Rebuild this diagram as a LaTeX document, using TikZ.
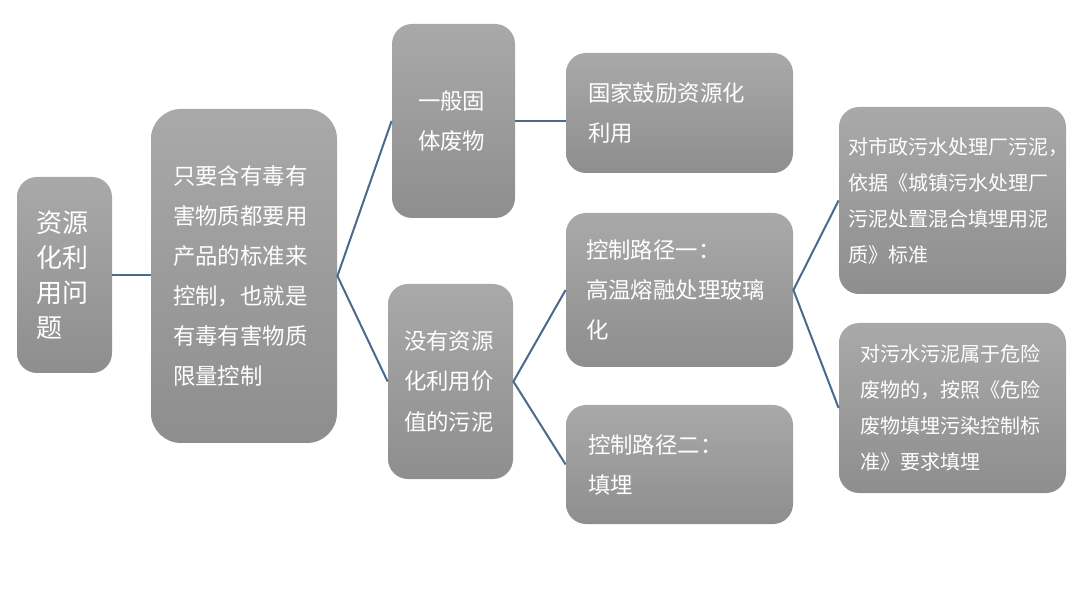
\documentclass[tikz,border=0pt]{standalone}
\usepackage{fontspec}
\usepackage{tikz}
\usetikzlibrary{positioning}
\newfontfamily\cjk{Noto Sans CJK SC}
\definecolor{boxtop}{HTML}{A9A9A9}
\definecolor{boxbot}{HTML}{8E8E8E}
\definecolor{linkcol}{HTML}{4B6A8B}

\begin{document}
\begin{tikzpicture}[x=0.5pt,y=-0.5pt,
    box/.style={rounded corners=10pt,top color=boxtop,bottom color=boxbot,
      draw=none,text=white,align=left,inner ysep=0pt,
      font=\cjk\fontsize{11.2}{20}\selectfont},
    link/.style={draw=linkcol,line width=1pt}]
  \useasboundingbox (0,0) rectangle (1080,608);
  % first column
  \node[box,minimum width=47.5pt,minimum height=98pt,inner xsep=9.5pt,text width=28.5pt,
    font=\cjk\fontsize{13}{17.5}\selectfont] (res) at (64.5,275)
    {资源\\化利\\用问\\题};
  \node[box,minimum width=93pt,minimum height=167pt,inner xsep=11pt,text width=71pt,
    rounded corners=15pt] (ctl) at (244,276)
    {只要含有毒有\\害物质都要用\\产品的标准来\\控制，也就是\\有毒有害物质\\限量控制};
  % second column
  \node[box,minimum width=61.5pt,minimum height=97pt,inner xsep=13pt,text width=35.5pt]
    (gen) at (453.5,121) {一般固\\体废物};
  \node[box,minimum width=62.5pt,minimum height=97.5pt,inner xsep=8pt,text width=46.5pt]
    (non) at (450.5,381.5) {没有资源\\化利用价\\值的污泥};
  % third column
  \node[box,minimum width=113.5pt,minimum height=60pt,inner xsep=11pt,text width=91.5pt]
    (enc) at (679.5,113) {国家鼓励资源化\\利用};
  \node[box,minimum width=113.5pt,minimum height=77pt,inner xsep=10pt,text width=93.5pt]
    (pa) at (679.5,290) {控制路径一：\\高温熔融处理玻璃\\化};
  \node[box,minimum width=113.5pt,minimum height=59.5pt,inner xsep=11pt,text width=91.5pt]
    (pb) at (679.5,464.5) {控制路径二：\\填埋};
  % fourth column
  \node[box,minimum width=113.5pt,minimum height=93.5pt,inner xsep=4.5pt,text width=104.5pt,
    font=\cjk\fontsize{10}{18}\selectfont] (mun) at (952.5,200.5)
    {对市政污水处理厂污泥，\\依据《城镇污水处理厂\\污泥处置混合填埋用泥\\质》标准};
  \node[box,minimum width=113.5pt,minimum height=85pt,inner xsep=10.5pt,text width=92.5pt,
    font=\cjk\fontsize{10}{18}\selectfont] (haz) at (952.5,408)
    {对污水污泥属于危险\\废物的，按照《危险\\废物填埋污染控制标\\准》要求填埋};
  % connectors
  \draw[link] (res.east) -- (res.east -| ctl.west);
  \draw[link] (gen.west) -- (ctl.east) -- (non.west);
  \draw[link] (gen.east) -- (gen.east -| enc.west);
  \draw[link] (pa.west) -- (non.east) -- (pb.west);
  \draw[link] (mun.west) -- (pa.east) -- (haz.west);
\end{tikzpicture}
\end{document}
